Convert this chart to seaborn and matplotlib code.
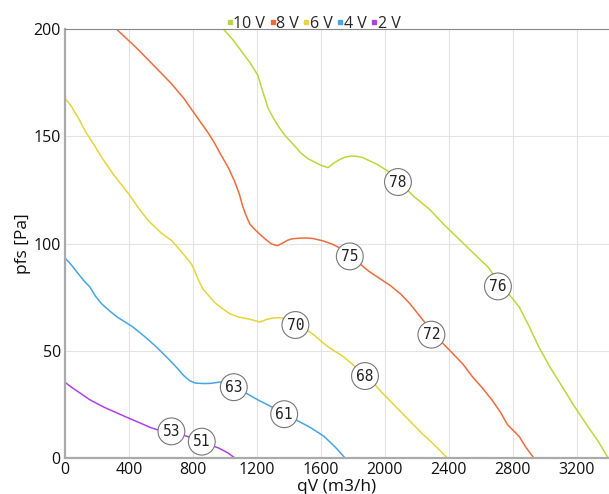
import pandas as pd
import seaborn as sns
import matplotlib.pyplot as plt
from matplotlib.lines import Line2D

# --------------------- data --------------------- #
v10_q = [990, 1050, 1100, 1160, 1205, 1240, 1270, 1302, 1340, 1380, 1430, 1473, 1520, 1560, 1600, 1644, 1680,
         1717, 1750, 1790, 1830, 1863, 1950, 2034, 2095, 2180, 2278, 2373, 2473, 2560, 2644, 2729, 2790, 2839,
         2900, 2961, 3030, 3107, 3180, 3254, 3330, 3395]
v10_p = [200, 195, 190, 184, 178.5, 170, 163, 158.6, 154, 150, 146, 142.3, 139.5, 138, 136.5, 135.4, 137.5,
         139.2, 140.3, 140.8, 140.6, 140.0, 137, 133, 128.4, 122, 116, 108.5, 101.3, 95, 89, 80, 75, 70.4,
         61.5, 51.8, 42.5, 33.3, 24.5, 16.2, 8, 0]

v8_q = [322, 450, 571, 660, 741, 815, 888, 930, 970, 1020, 1059, 1090, 1110, 1135, 1156, 1190, 1217, 1250,
        1290, 1327, 1360, 1390, 1420, 1449, 1500, 1546, 1610, 1668, 1730, 1790, 1900, 2034, 2100, 2156, 2230,
        2310, 2370, 2424, 2490, 2546, 2610, 2668, 2720, 2766, 2839, 2880, 2930]
v8_p = [200, 191, 181.8, 175, 167.9, 160, 152.4, 147.5, 142, 135.5, 129.2, 123, 117.5, 112.5, 109, 106.3,
        104.4, 102.2, 99.8, 99, 100.2, 101.5, 102.2, 102.4, 102.6, 102.4, 101.3, 99.8, 97.5, 93.9, 87, 80.4,
        76.3, 71.9, 65, 57.5, 52.8, 48.7, 43.5, 37.9, 32.5, 27.1, 21.5, 15.5, 10, 5, 0]

v6_q = [0, 40, 83, 130, 180, 240, 302, 400, 460, 522, 600, 668, 730, 790, 815, 840, 865, 888, 935, 985,
        1030, 1083, 1150, 1190, 1217, 1240, 1260, 1302, 1340, 1388, 1454, 1546, 1600, 1644, 1741, 1815, 1888,
        1985, 2107, 2229, 2310, 2390]
v6_p = [167.8, 164, 158.6, 152, 146.2, 139, 132.3, 123, 116.5, 110.6, 105, 101.3, 96, 90.5, 86.5, 82,
        78.5, 76.6, 72.5, 69.6, 67.3, 65.7, 64.8, 64, 63.4, 64, 64.6, 65.3, 65.4, 65, 61.9, 58, 54.5, 51.8,
        47.2, 42.5, 38.2, 30.2, 20.9, 11.6, 6, 0]

v4_q = [0, 40, 83, 120, 156, 190, 229, 280, 327, 424, 500, 571, 644, 700, 741, 780, 815, 870, 912, 960,
        998, 1068, 1205, 1300, 1383, 1450, 1522, 1580, 1620, 1690, 1750]
v4_p = [93.3, 90, 85.9, 82.5, 79.7, 75.5, 71.9, 68.5, 65.7, 61.1, 56.5, 51.8, 46.4, 42, 38.5, 36, 34.9,
        34.7, 34.8, 35.3, 35.6, 33, 27.1, 23.5, 20.4, 17.5, 14.7, 12, 10, 5, 0]

v2_q = [0, 40, 80, 156, 240, 327, 400, 473, 530, 571, 620, 663, 766, 858, 961, 1015, 1062]
v2_p = [35.3, 33, 31, 27.1, 23.8, 20.9, 18.5, 16.2, 14.3, 13.3, 12.8, 12.4, 10, 7.4, 4.6, 2.5, 0]

series_names = ['10 V', '8 V', '6 V', '4 V', '2 V']
series_colors = ['#bdd63c', '#ef6b3b', '#e5d53b', '#46a5e6', '#b03fe6']

# sound level labels sitting on the curves
label_text = ['78', '76', '75', '72', '70', '68', '63', '61', '53', '51']
label_q = [2081, 2706, 1780, 2290, 1440, 1875, 1055, 1370, 665, 855]
label_p = [128.7, 80, 94, 57.5, 62, 38.2, 33, 20.4, 12.4, 7.6]

# --------------------- build long frame --------------------- #
frames = []
for name, q, p in zip(series_names,
                      [v10_q, v8_q, v6_q, v4_q, v2_q],
                      [v10_p, v8_p, v6_p, v4_p, v2_p]):
    frames.append(pd.DataFrame({'qV': q, 'pfs': p, 'curve': name}))
df = pd.concat(frames, ignore_index=True)

# --------------------- plot --------------------- #
sns.set_style('white')
plt.rcParams['font.family'] = ['Open Sans', 'DejaVu Sans']

fig = plt.figure(figsize=(6.09, 4.94), dpi=100)
ax = fig.add_axes([0.1067, 0.073, 0.8933, 0.868])

sns.lineplot(data=df, x='qV', y='pfs', hue='curve', hue_order=series_names,
             palette=series_colors, sort=False, estimator=None, linewidth=1.1,
             legend=False, ax=ax)

for txt, q, p in zip(label_text, label_q, label_p):
    ax.text(q, p, txt, ha='center', va='center', fontsize=10.5,
            family='DejaVu Sans Mono', color='#222222', zorder=5,
            bbox=dict(boxstyle='circle,pad=0.32', fc='white', ec='#777777', lw=0.8))

ax.set_xlim(0, 3400)
ax.set_ylim(0, 200)
ax.set_xticks(range(0, 3201, 400))
ax.set_yticks(range(0, 201, 50))
ax.grid(True, color='#e3e3e3', linewidth=0.8)
ax.set_axisbelow(True)
ax.tick_params(axis='both', labelsize=11.5, length=3, color='#aaaaaa', pad=0, labelcolor='#111111')

for side in ['left', 'bottom']:
    ax.spines[side].set_color('#aaaaaa')
    ax.spines[side].set_linewidth(1.6)
ax.spines['top'].set_color('#888888')
ax.spines['top'].set_linewidth(0.8)
ax.spines['right'].set_visible(False)

ax.set_xlabel('qV (m3/h)', fontsize=12.5, labelpad=0.5, color='#111111')
ax.set_ylabel('pfs [Pa]', fontsize=12.5, labelpad=2, color='#111111')

handles = [Line2D([], [], marker='s', linestyle='none', markersize=3,
                  color=c, label=n) for n, c in zip(series_names, series_colors)]
ax.legend(handles=handles, loc='lower center', bbox_to_anchor=(0.455, 0.99), ncol=5,
          frameon=False, fontsize=11.5, handletextpad=-0.1, columnspacing=0.2,
          handlelength=0.6, borderaxespad=0.0, borderpad=0.1)

plt.savefig('out.png', dpi=100)
